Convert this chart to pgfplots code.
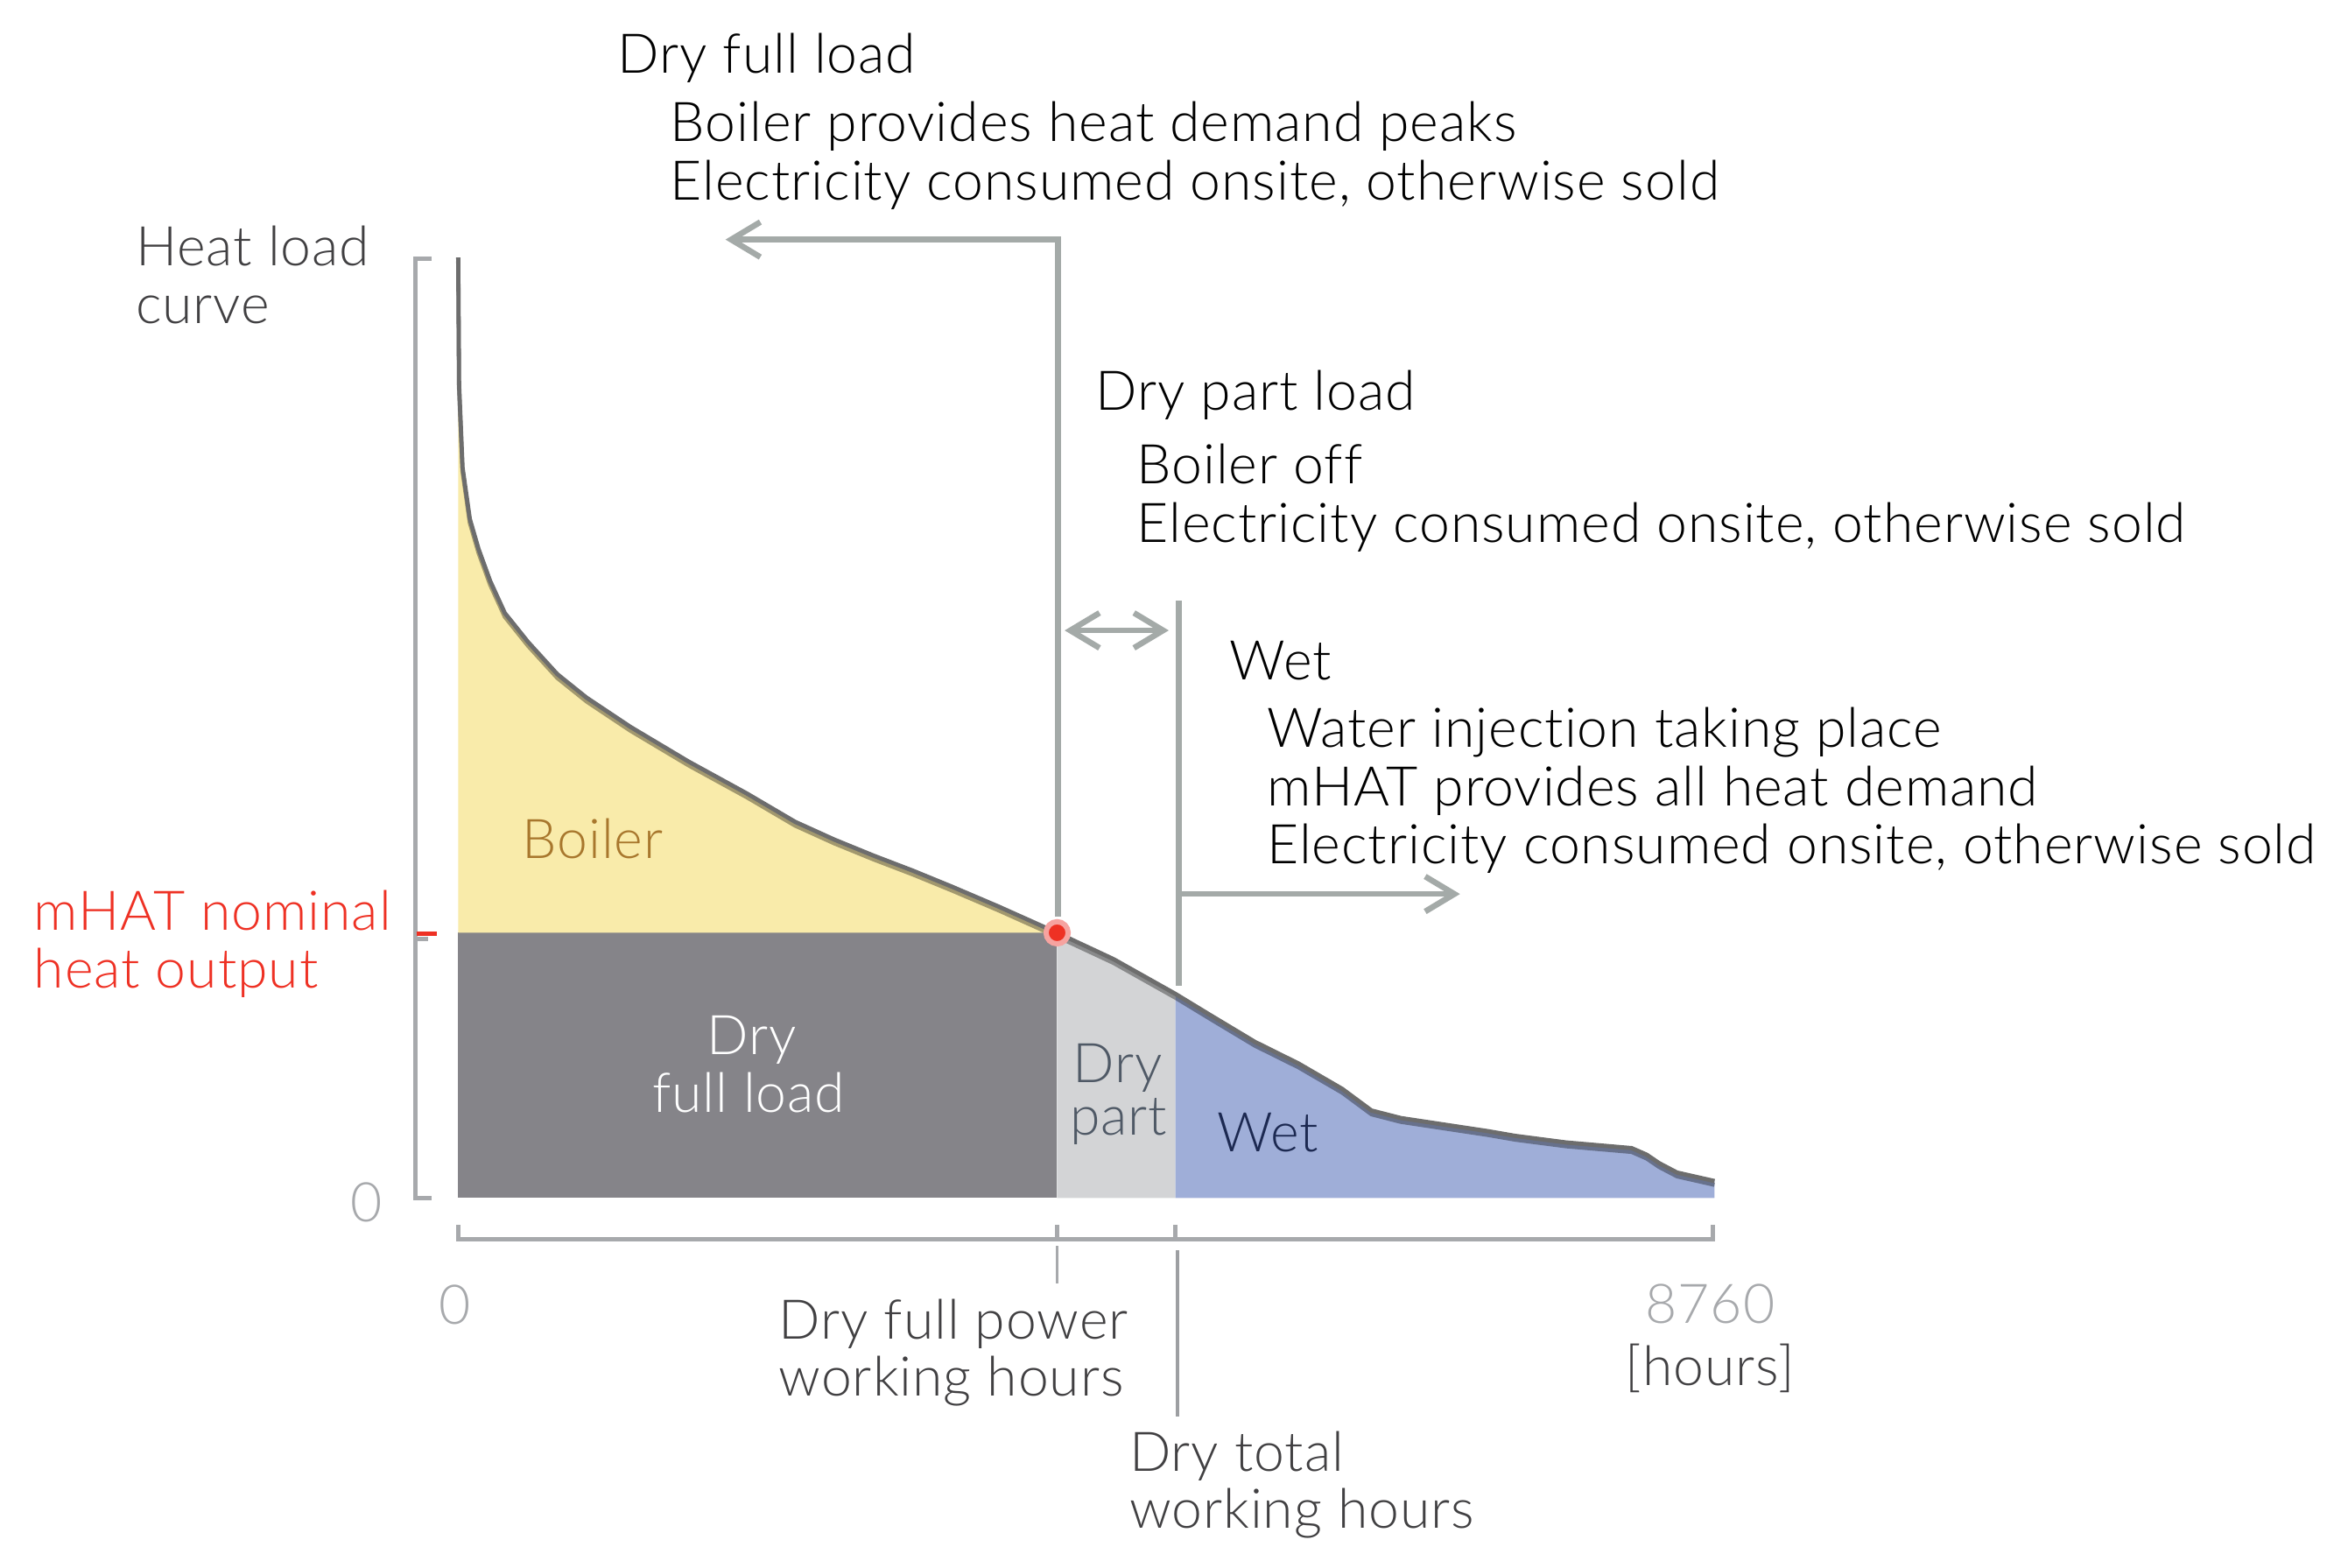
\documentclass[border=0pt]{standalone}
\usepackage{pgfplots}
\pgfplotsset{compat=1.18}
\usepackage{pgfplotstable}
\usepackage{fontspec}
\setmainfont{Lato}[UprightFont={* Light}, LetterSpace=1.5, Ligatures=NoCommon]
\usetikzlibrary{arrows.meta}

\definecolor{cYellow}{HTML}{F9EBAA}
\definecolor{cDark}{HTML}{858489}
\definecolor{cLight}{HTML}{D3D4D6}
\definecolor{cBlue}{HTML}{9FAED8}
\definecolor{cCurve}{HTML}{6D6D6D}
\definecolor{cAx}{HTML}{A7A9AC}
\definecolor{cAxD}{HTML}{9D9FA2}
\definecolor{cAnn}{HTML}{A4AAA8}
\definecolor{cRed}{HTML}{EE3124}
\definecolor{cPink}{HTML}{F6A3A0}
\definecolor{cBoiler}{HTML}{A8772D}
\definecolor{cSlate}{HTML}{4F5966}
\definecolor{cNavy}{HTML}{1C2951}
\definecolor{cTxt}{HTML}{414042}

\newcommand\lbl{\fontsize{10.4}{12.5}\selectfont}

% heat load duration curve (hours, relative load)
\pgfplotstableread{
x y
0 100
6 86.5
30 77.7
81 72.2
142 69.0
223 65.6
325 62.2
488 59.1
691 55.7
895 53.2
1200 50.1
1607 46.4
2014 43.0
2349 40.0
2624 38.1
2897 36.4
3171 34.8
3443 33.1
3766 31.0
4176 28.2
4569 25.4
5001 21.7
5249 19.4
5555 16.6
5859 14.3
6164 11.6
6368 9.3
6572 8.5
7182 7.1
7371 6.6
7726 5.9
8182 5.3
8287 4.6
8374 3.7
8499 2.7
8760 1.8
}\curve

\begin{document}
\begin{tikzpicture}[t/.style={anchor=base west, inner sep=0pt, font=\lbl}]
% page frame in reference pixels
\begin{scope}[x=0.1mm, y=-0.1mm, shift={(-30.6mm,80mm)}]
  \useasboundingbox (0,0) rectangle (1568,1047);
\end{scope}

\begin{axis}[
    scale only axis,
    width=83.9mm,
    height=62.8mm,
    xmin=0, xmax=8760,
    ymin=0, ymax=100,
    hide axis,
    clip=false
]
  \addplot[draw=none, fill=cDark] coordinates {(0,0) (4176,0) (4176,28.2) (0,28.2)} -- cycle;
  \addplot[draw=none, fill=cYellow] table[restrict x to domain=0:4176] {\curve} -- (axis cs:0,28.2) -- cycle;
  \addplot[draw=none, fill=cLight] table[restrict x to domain=4176:5001] {\curve} \closedcycle;
  \addplot[draw=none, fill=cBlue] table[restrict x to domain=5001:8760] {\curve} \closedcycle;

  \addplot[black, opacity=0.35, line width=0.8pt, yshift=-0.25mm] table {\curve};
  \addplot[cCurve, line width=0.8pt] table {\curve};

  \addplot[only marks, mark=*, mark size=2.1pt,
    mark options={draw=cPink, fill=cRed, line width=1pt}] coordinates {(4176,28.2)};
\end{axis}

\begin{scope}[x=0.1mm, y=-0.1mm, shift={(-30.6mm,80mm)}]
  % axis brackets
  \draw[cAx, line width=0.8pt] (288,173) -- (277.5,173) -- (277.5,800) -- (288,800);
  \draw[cAx, line width=0.8pt] (277.5,627) -- (286,627);
  \draw[cRed, line width=0.9pt] (278,623.5) -- (292,623.5);
  \draw[cAx, line width=0.9pt] (306,818) -- (306,827.5) -- (1144,827.5) -- (1144,818);
  \draw[cAx, line width=0.8pt] (706,818) -- (706,827.5);
  \draw[cAx, line width=0.8pt] (785,818) -- (785,827.5);
  \draw[cAx, line width=0.6pt] (706,832) -- (706,857);
  \draw[cAxD, line width=0.7pt] (786.5,835) -- (786.5,946);

  % region arrows
  \draw[cAnn, line width=1.1pt, -{Straight Barb[length=1.95mm, width=2.34mm]}]
    (706.5,612) -- (706.5,160) -- (484.5,160);
  \draw[cAnn, line width=1.1pt, {Straight Barb[length=1.95mm, width=2.34mm]}-{Straight Barb[length=1.95mm, width=2.34mm]}]
    (711,421) -- (780.5,421);
  \draw[cAnn, line width=1.1pt] (787.3,401) -- (787.3,658.5);
  \draw[cAnn, line width=1.1pt, -{Straight Barb[length=1.95mm, width=2.34mm]}]
    (787.3,597) -- (975,597);

  % texts
  \node[t] at (412,48.7) {Dry full load};
  \node[t] at (447,94.5) {Boiler provides heat demand peaks};
  \node[t] at (447,133.5) {Electricity consumed onsite, otherwise sold};
  \node[t, text=cTxt] at (90,177.7) {Heat load};
  \node[t, text=cTxt] at (90,216.3) {curve};
  \node[t] at (731,274) {Dry part load};
  \node[t] at (758.5,323) {Boiler off};
  \node[t] at (758.5,362) {Electricity consumed onsite, otherwise sold};
  \node[t] at (820.5,453.7) {Wet};
  \node[t] at (845.5,498.9) {Water injection taking place};
  \node[t] at (845.5,538) {mHAT provides all heat demand};
  \node[t] at (845.5,577) {Electricity consumed onsite, otherwise sold};
  \node[t, text=cBoiler] at (348,573) {Boiler};
  \node[t, text=cRed] at (22,621.3) {mHAT nominal};
  \node[t, text=cRed] at (22,660) {heat output};
  \node[t, anchor=base, text=white] at (502,704) {Dry};
  \node[t, anchor=base, text=white] at (500,742.9) {full load};
  \node[t, anchor=base, text=cSlate] at (746.6,723) {Dry};
  \node[t, anchor=base, text=cSlate] at (747,758) {part};
  \node[t, text=cNavy] at (812,769) {Wet};
  \node[t, anchor=base east, text=cAx] at (256.2,815.6) {0};
  \node[t, anchor=base, text=cAx] at (304,884) {0};
  \node[t, text=cTxt] at (519.5,894.5) {Dry full power};
  \node[t, text=cTxt] at (519.5,932.5) {working hours};
  \node[t, anchor=base, text=cAx] at (1142,883.8) {8760};
  \node[t, anchor=base, text=cTxt] at (1142,925) {[hours]};
  \node[t, text=cTxt] at (753.5,982.2) {Dry total};
  \node[t, text=cTxt] at (753.5,1020.2) {working hours};
\end{scope}
\end{tikzpicture}
\end{document}
